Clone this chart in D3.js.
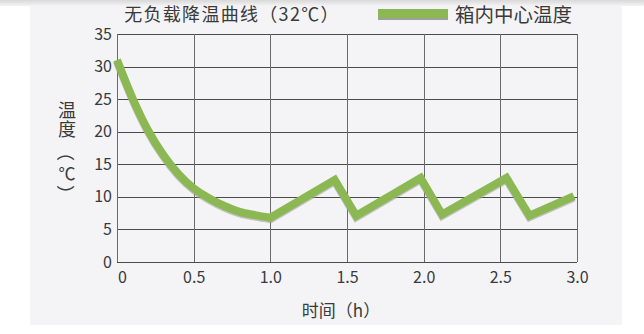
<!DOCTYPE html>
<html>
<head>
<meta charset="utf-8">
<script src="https://cdn.jsdelivr.net/npm/d3@7"></script>
<style>
  body { margin: 0; background: #fff; }
  svg text { font-family: "Noto Sans CJK SC", "Noto Sans", sans-serif; fill: #3a3a3a; }
</style>
</head>
<body>
<svg id="chart" width="644" height="334"></svg>
<script>
// readings
var hours = [0, 0.1, 0.2, 0.3, 0.4, 0.5, 0.6, 0.7, 0.8, 0.9, 1.0, 1.42, 1.56, 1.98, 2.12, 2.54, 2.69, 2.98];
var temps = [31, 25.2, 20.3, 16.5, 13.5, 11.3, 9.8, 8.6, 7.7, 7.2, 6.8, 12.6, 7.1, 12.9, 7.3, 12.9, 7.1, 10.1];
var xTicks = [0, 0.5, 1.0, 1.5, 2.0, 2.5, 3.0];
var yTicks = [0, 5, 10, 15, 20, 25, 30, 35];
var title = '无负载降温曲线（32℃）';
var seriesName = '箱内中心温度';
var xTitle = '时间（h）';
var yTitleWord = '温度', yTitleUnit = '℃', yParens = ['（', '）'];

var svg = d3.select('#chart');

var margin = { left: 117, right: 67, top: 34, bottom: 72 },
    width = 644 - margin.left - margin.right,
    height = 334 - margin.top - margin.bottom;

// panel background + top shadow
var defs = svg.append('defs');
var sh = defs.append('linearGradient').attr('id', 'topShadow')
    .attr('x1', 0).attr('y1', 0).attr('x2', 0).attr('y2', 1);
sh.append('stop').attr('offset', 0).attr('stop-color', '#d8d8d8');
sh.append('stop').attr('offset', 1).attr('stop-color', '#f4f4f6');

svg.append('rect').attr('x', 30).attr('y', 0).attr('width', 592).attr('height', 325)
    .attr('fill', '#f4f4f6');
svg.append('rect').attr('x', 0).attr('y', 0).attr('width', 644).attr('height', 6)
    .attr('fill', 'url(#topShadow)');

var x = d3.scaleLinear().domain([0, 3]).range([0, width]);
var y = d3.scaleLinear().domain([0, 35]).range([height, 0]);

var g = svg.append('g').attr('transform', 'translate(' + margin.left + ',' + margin.top + ')');

// grid
g.append('g').selectAll('line').data(yTicks).enter().append('line')
    .attr('x1', 0).attr('x2', width)
    .attr('y1', function(d) { return Math.round(y(d)) + 0.5; })
    .attr('y2', function(d) { return Math.round(y(d)) + 0.5; })
    .attr('stroke', '#4a4a4a').attr('stroke-width', 1);

g.append('g').selectAll('line').data(xTicks).enter().append('line')
    .attr('y1', 0).attr('y2', height)
    .attr('x1', function(d) { return Math.round(x(d)) + 0.5; })
    .attr('x2', function(d) { return Math.round(x(d)) + 0.5; })
    .attr('stroke', '#6a6a6a').attr('stroke-width', 1);

// axes labels via d3 axis, domain hidden
var yAxis = g.append('g')
    .call(d3.axisLeft(y).tickValues(yTicks).tickSize(0).tickPadding(5));
yAxis.select('.domain').remove();
yAxis.selectAll('text').style('font-size', '16px').attr('fill', '#3a3a3a');

var xAxis = g.append('g').attr('transform', 'translate(0,' + height + ')')
    .call(d3.axisBottom(x).tickValues(xTicks).tickSize(0).tickPadding(10)
        .tickFormat(function(d) { return d === 0 ? '0' : d3.format('.1f')(d); }));
xAxis.select('.domain').remove();
xAxis.selectAll('text').style('font-size', '16px').attr('fill', '#3a3a3a');
xAxis.selectAll('.tick').filter(function(d) { return d === 0; })
    .select('text').attr('x', 5);

// line: smooth cool-down, then straight zigzag
var pts = hours.map(function(h, i) { return [h, temps[i]]; });
var split = hours.indexOf(1.0);
var smooth = d3.line().curve(d3.curveMonotoneX)
    .x(function(d) { return x(d[0]); }).y(function(d) { return y(d[1]); });
var straight = d3.line()
    .x(function(d) { return x(d[0]); }).y(function(d) { return y(d[1]); });
var pathD = smooth(pts.slice(0, split + 1)) +
    straight(pts.slice(split)).replace(/^M[^LC]*/, '');

g.append('path')
    .attr('d', pathD)
    .attr('transform', 'translate(0,1.5)')
    .attr('fill', 'none')
    .attr('stroke', '#a0a0a0')
    .attr('stroke-opacity', 0.6)
    .attr('stroke-width', 8)
    .attr('stroke-linejoin', 'miter');

g.append('path')
    .attr('d', pathD)
    .attr('fill', 'none')
    .attr('stroke', '#8cb854')
    .attr('stroke-width', 8)
    .attr('stroke-linejoin', 'miter');

// title + legend
svg.append('text').attr('x', 232).attr('y', 21)
    .attr('text-anchor', 'middle')
    .style('font-size', '18px')
    .style('letter-spacing', '1.3px')
    .text(title);

svg.append('rect').attr('x', 378).attr('y', 11).attr('width', 70).attr('height', 9)
    .attr('fill', '#a0a0a0');
svg.append('rect').attr('x', 378).attr('y', 9).attr('width', 70).attr('height', 9)
    .attr('fill', '#8cb854');
svg.append('text').attr('x', 455).attr('y', 22)
    .style('font-size', '19.5px')
    .text(seriesName);

// axis titles
svg.append('text').attr('x', 341).attr('y', 317)
    .attr('text-anchor', 'middle')
    .style('font-size', '17px')
    .text(xTitle);

svg.append('text')
    .attr('x', 67).attr('y', 101)
    .style('writing-mode', 'vertical-rl')
    .style('text-orientation', 'upright')
    .style('font-size', '18px')
    .style('letter-spacing', '1px')
    .text(yTitleWord);

svg.append('text')
    .attr('x', 67).attr('y', 180)
    .attr('text-anchor', 'middle')
    .style('font-size', '17px')
    .text(yTitleUnit);

var parenY = [152, 194];
svg.selectAll('.yparen').data(yParens).enter().append('text')
    .attr('class', 'yparen')
    .attr('text-anchor', 'middle')
    .attr('dominant-baseline', 'central')
    .attr('transform', function(d, i) { return 'translate(67,' + parenY[i] + ') rotate(90)'; })
    .style('font-size', '18px')
    .text(function(d) { return d; });
</script>
</body>
</html>
